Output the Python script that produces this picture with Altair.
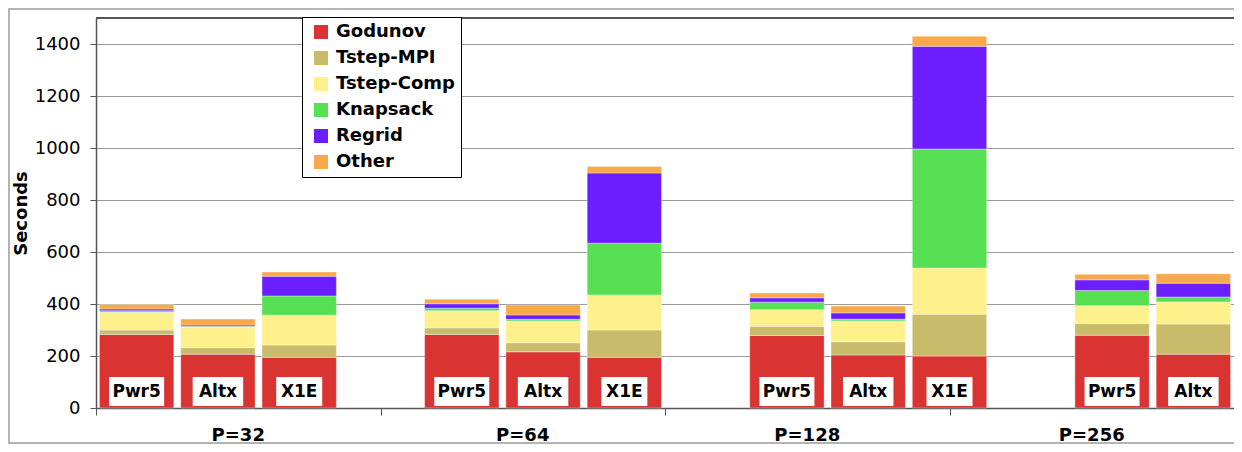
import altair as alt
import pandas as pd

components = ["Godunov", "Tstep-MPI", "Tstep-Comp", "Knapsack", "Regrid", "Other"]
colors = ["#d93431", "#c8bb6a", "#fef08b", "#58e055", "#6b1fff", "#f9a84a"]
groups = ["P=32", "P=64", "P=128", "P=256"]

bar_group = ["P=32"] * 3 + ["P=64"] * 3 + ["P=128"] * 3 + ["P=256"] * 2
bar_machine = ["Pwr5", "Altx", "X1E"] * 3 + ["Pwr5", "Altx"]

godunov = [283, 207, 195, 283, 216, 195, 279, 204, 200, 280, 207]
tstep_mpi = [17, 25, 47, 25, 35, 105, 35, 51, 161, 45, 116]
tstep_comp = [68, 80, 115, 66, 84, 135, 64, 80, 177, 68, 85]
knapsack = [6, 2, 74, 10, 6, 199, 29, 7, 458, 59, 19]
regrid = [7, 5, 76, 17, 17, 270, 17, 24, 395, 41, 53]
other = [17, 23, 16, 17, 38, 25, 18, 26, 39, 21, 36]

series = [godunov, tstep_mpi, tstep_comp, knapsack, regrid, other]

# x slots: three machines per group followed by an empty slot
slots = []
for g in groups:
    for m in ["Pwr5", "Altx", "X1E", "gap"]:
        slots.append(g + "|" + m)
slots = slots[:14]

rows = []
for i, (g, m) in enumerate(zip(bar_group, bar_machine)):
    for j, comp in enumerate(components):
        rows.append({"slot": g + "|" + m, "machine": m, "component": comp,
                     "idx": j, "value": series[j][i]})
df = pd.DataFrame(rows)
labels_df = pd.DataFrame({"slot": [g + "|" + m for g, m in zip(bar_group, bar_machine)],
                          "machine": bar_machine})
groups_df = pd.DataFrame({"group": groups, "gpos": [k + 0.5 for k in range(len(groups))]})

W, H = 1138, 390
FONT = "DejaVu Sans"

xslot = alt.X("slot:N", scale=alt.Scale(domain=slots, paddingInner=0.085, paddingOuter=0.0425),
              axis=None)

bars = alt.Chart(df).mark_bar(stroke="white", strokeWidth=0.5, strokeOpacity=0.7).encode(
    x=xslot,
    y=alt.Y("value:Q", stack="zero",
            scale=alt.Scale(domain=[0, 1500], nice=False),
            axis=alt.Axis(values=list(range(0, 1401, 200)), format="d", title="Seconds",
                          grid=True, gridColor="#9a9a9a", gridWidth=1,
                          domainColor="#555555", domainWidth=1.5,
                          tickColor="#555555", tickSize=6, labelPadding=10,
                          labelFont=FONT, labelFontSize=18, labelColor="black",
                          titleFont=FONT, titleFontSize=18, titleFontWeight="bold",
                          titleColor="black", titleX=-75, titleY=H / 2,
                          titleBaseline="middle", titleAngle=270)),
    color=alt.Color("component:N", scale=alt.Scale(domain=components, range=colors),
                    legend=alt.Legend(orient="none", legendX=206, legendY=-1, title=None,
                                      fillColor="white", strokeColor="black",
                                      padding=6, symbolType="square", symbolSize=196,
                                      symbolStrokeWidth=0, symbolOffset=4, labelOffset=6,
                                      labelFont=FONT, labelFontSize=18,
                                      labelFontWeight="bold", labelColor="black",
                                      rowPadding=8)),
    order=alt.Order("idx:Q", sort="ascending"),
)

boxes = alt.Chart(labels_df).mark_bar(color="white").encode(
    x=xslot,
    y=alt.value(359), y2=alt.value(388),
    size=alt.Size("machine:N", scale=alt.Scale(domain=["Pwr5", "Altx", "X1E"], range=[55, 46, 43]),
                  legend=None),
)

texts = alt.Chart(labels_df).mark_text(font=FONT, fontSize=17, fontWeight="bold",
                                       color="black", baseline="middle").encode(
    x=xslot, y=alt.value(374), text="machine:N")

group_axis = alt.Chart(groups_df).mark_text(font=FONT, fontSize=18, fontWeight="bold",
                                           color="black", baseline="middle").encode(
    x=alt.X("gpos:Q", scale=alt.Scale(domain=[0, 4], nice=False),
            axis=alt.Axis(values=[0, 1, 2, 3, 4], labels=False, ticks=True, tickSize=7,
                          tickColor="#555555", domainColor="#555555", domainWidth=1.5,
                          grid=False, title=None, orient="bottom")),
    y=alt.value(418),
    text="group:N",
)

one = pd.DataFrame({"a": [0]})
top_rule = alt.Chart(one).mark_rule(color="#555555", strokeWidth=2).encode(
    x=alt.value(0), x2=alt.value(W), y=alt.value(0))
frame = alt.Chart(one).mark_rect(filled=False, stroke="#9a9a9a", strokeWidth=1.5).encode(
    x=alt.value(-87), x2=alt.value(W + 40), y=alt.value(-9), y2=alt.value(425))

chart = alt.layer(frame, bars, boxes, texts, group_axis, top_rule).resolve_scale(
    x="independent"
).properties(
    width=W, height=H,
    padding={"left": 88, "top": 10, "right": 0, "bottom": 36},
    autosize=alt.AutoSizeParams(type="none"),
).configure_view(stroke=None)

chart.save("out.html", embed_options={"renderer": "svg", "actions": False})
